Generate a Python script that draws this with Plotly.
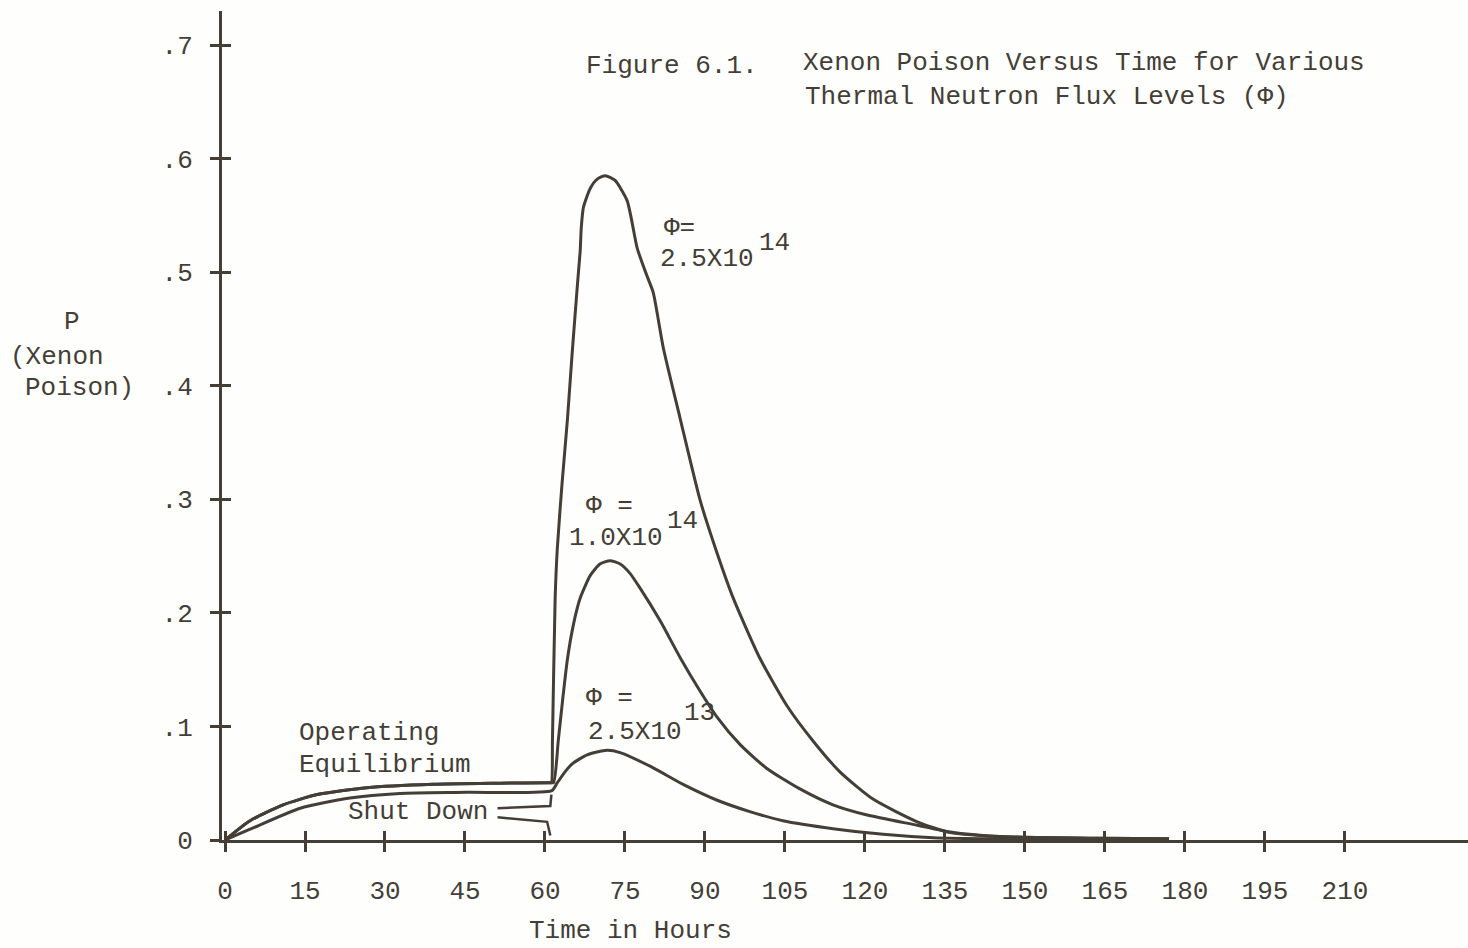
import plotly.graph_objects as go

# ---------------- data ----------------
hours_phi_25e14 = [0, 4.7, 10.9, 17.3, 26.6, 39.0, 51.6, 60.9, 61.2, 61.4, 61.9, 62.3, 63.2, 64.2,
                   65.1, 66.1, 66.6, 66.8, 67.2, 68.5, 69.8, 71.3, 73.1, 75.4, 77.3, 79.1, 80.3,
                   82.2, 85.3, 89.1, 92.1, 95.3, 100.3, 105.4, 110.3, 115.3, 121.5, 129.8, 136.0,
                   145.3, 164.0, 177.0]
P_phi_25e14 = [0, 0.017, 0.031, 0.040, 0.046, 0.049, 0.050, 0.0505, 0.0505, 0.088, 0.212, 0.256, 0.314, 0.370,
               0.429, 0.490, 0.519, 0.539, 0.557, 0.574, 0.582, 0.585, 0.581, 0.563, 0.521, 0.497, 0.482,
               0.433, 0.372, 0.299, 0.255, 0.213, 0.160, 0.118, 0.087, 0.060, 0.036, 0.016, 0.0065,
               0.003, 0.0015, 0.001]

hours_phi_10e14 = [0, 4.7, 10.9, 17.3, 26.6, 39.0, 51.6, 60.9, 61.6, 62.5, 63.3, 64.2, 65.3, 66.6,
                   68.5, 70.3, 72.2, 74.1, 75.9, 77.8, 81.6, 85.3, 89.1, 92.3, 96.6, 101.6, 107.8,
                   114.0, 120.4, 129.8, 136.0, 145.3, 164.0, 177.0]
P_phi_10e14 = [0, 0.017, 0.031, 0.040, 0.046, 0.049, 0.050, 0.0505, 0.0505, 0.088, 0.123, 0.159, 0.189, 0.213,
               0.233, 0.243, 0.246, 0.243, 0.235, 0.222, 0.193, 0.161, 0.131, 0.108, 0.084, 0.063, 0.045,
               0.031, 0.022, 0.013, 0.007, 0.003, 0.0015, 0.001]

hours_phi_25e13 = [0, 4.7, 14.1, 23.4, 32.8, 45.4, 61.3, 62.25, 63.75, 65.1, 67.9, 71.6, 74.1, 79.7,
                   85.9, 92.3, 98.4, 104.6, 114.0, 123.4, 132.8, 145.3, 164.0, 177.0]
P_phi_25e13 = [0, 0.0095, 0.028, 0.037, 0.041, 0.042, 0.0435, 0.050, 0.060, 0.067, 0.075, 0.079, 0.077, 0.065,
               0.049, 0.035, 0.025, 0.017, 0.010, 0.005, 0.002, 0.001, 0.0005, 0.0003]

# "Shut Down" pointer strokes
shutdown_upper_hours = [51.1, 61.0, 61.2]
shutdown_upper_P = [0.028, 0.030, 0.040]
shutdown_lower_hours = [51.1, 60.4, 61.0]
shutdown_lower_P = [0.020, 0.016, 0.004]

x_ticks = [0, 15, 30, 45, 60, 75, 90, 105, 120, 135, 150, 165, 180, 195, 210]
y_ticks = [0, 0.1, 0.2, 0.3, 0.4, 0.5, 0.6, 0.7]
y_tick_text = ["0", ".1", ".2", ".3", ".4", ".5", ".6", ".7"]

# ---------------- style ----------------
INK = "#443e37"
BG = "#fefefd"
FONT = "Liberation Mono"
FS = 26

L, T = 222, 11
PW, PH = 1468 - 222, 840 - 11

fig = go.Figure()
for xs, ys in [(hours_phi_25e13, P_phi_25e13), (hours_phi_10e14, P_phi_10e14), (hours_phi_25e14, P_phi_25e14)]:
    fig.add_trace(go.Scatter(x=xs, y=ys, mode="lines",
                             line=dict(color=INK, width=3, shape="spline", smoothing=0.6),
                             showlegend=False, hoverinfo="skip"))
for xs, ys in [(shutdown_upper_hours, shutdown_upper_P), (shutdown_lower_hours, shutdown_lower_P)]:
    fig.add_trace(go.Scatter(x=xs, y=ys, mode="lines", line=dict(color=INK, width=2.5),
                             showlegend=False, hoverinfo="skip"))
# invisible traces to bind the overlay axes (inner half of the cross ticks)
fig.add_trace(go.Scatter(x=[None], y=[None], xaxis="x2", yaxis="y", showlegend=False))
fig.add_trace(go.Scatter(x=[None], y=[None], xaxis="x", yaxis="y2", showlegend=False))


def ann(text, px, py, anchor="left", size=FS):
    fig.add_annotation(text=text, xref="paper", yref="paper",
                       x=(px - L) / PW, y=(840 - py) / PH,
                       xanchor=anchor, yanchor="middle", showarrow=False,
                       font=dict(family=FONT, size=size, color=INK), align="left")


ann("Figure 6.1.", 584, 66)
ann("Xenon Poison Versus Time for Various", 801, 63)
ann("Thermal Neutron Flux Levels (Φ)", 803, 97)
ann("Φ=", 662, 228)
ann("2.5X10", 658, 259)
ann("14", 757, 243)
ann("Φ =", 584, 506)
ann("1.0X10", 567, 538)
ann("14", 665, 521)
ann("Φ =", 584, 698)
ann("2.5X10", 586, 732)
ann("13", 682, 713)
ann("Operating", 297, 733)
ann("Equilibrium", 297, 765)
ann("Shut Down", 346, 812)
ann("P", 72, 322, anchor="center")
ann("(Xenon", 8, 357)
ann("Poison)", 23, 388)
ann("Time in Hours", 527, 931)

x_range = [-0.5625, 233.07]
y_range = [0, 0.73]

fig.update_layout(
    width=1468, height=948,
    margin=dict(l=L, r=0, t=T, b=948 - 840),
    paper_bgcolor=BG, plot_bgcolor=BG,
    font=dict(family=FONT, size=FS, color=INK),
    xaxis=dict(range=x_range, tickvals=x_ticks, ticktext=[str(v) for v in x_ticks],
               showgrid=False, zeroline=False, showline=True, linecolor=INK, linewidth=3,
               ticks="outside", ticklen=9, tickwidth=2.5, tickcolor=INK,
               ticklabelstandoff=16, tickfont=dict(family=FONT, size=FS, color=INK)),
    xaxis2=dict(range=x_range, overlaying="x", anchor="y", side="bottom", tickvals=x_ticks,
                showgrid=False, zeroline=False, showline=False, showticklabels=False,
                ticks="inside", ticklen=9, tickwidth=2.5, tickcolor=INK),
    yaxis=dict(range=y_range, tickvals=y_ticks, ticktext=y_tick_text,
               showgrid=False, zeroline=False, showline=True, linecolor=INK, linewidth=3,
               ticks="outside", ticklen=9, tickwidth=2.5, tickcolor=INK,
               ticklabelstandoff=12, tickfont=dict(family=FONT, size=FS, color=INK)),
    yaxis2=dict(range=y_range, overlaying="y", anchor="x", side="left", tickvals=y_ticks,
                showgrid=False, zeroline=False, showline=False, showticklabels=False,
                ticks="inside", ticklen=9, tickwidth=2.5, tickcolor=INK),
)

fig.write_html("out.html", config={"displayModeBar": False},
               post_script="document.body.style.margin='0';document.body.style.padding='0';")
